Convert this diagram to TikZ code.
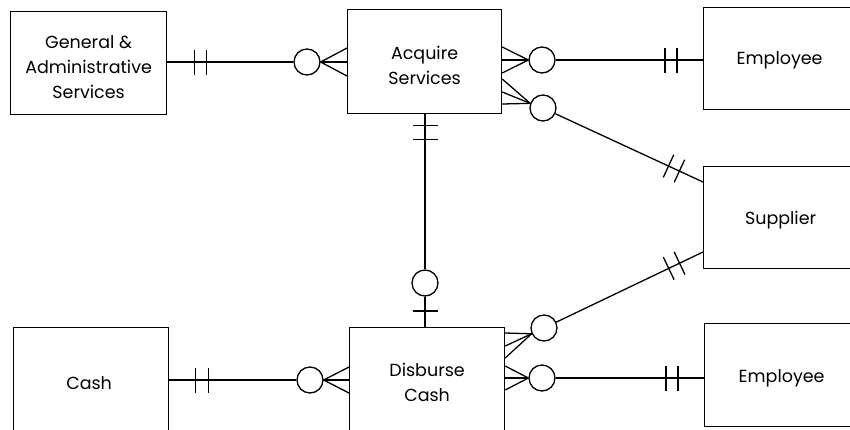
\documentclass[tikz,border=0pt]{standalone}
\usepackage{fontspec}
\setmainfont{Poppins}
\usetikzlibrary{calc}
% perpendicular bar on the line #1--#2, at distance #3 from #1
\newcommand\erbar[3]{\draw ($(#1)!#3!(#2)!12.5pt!90:(#2)$) -- ($(#1)!#3!(#2)!12.5pt!-90:(#2)$);}
\begin{document}
\begin{tikzpicture}[x=1pt,y=-1pt,line width=1.3pt,
  entity/.style={draw, line width=1.2pt, anchor=north west, inner sep=0pt},
  etext/.style={align=center, inner sep=0pt, font=\fontsize{17.5}{25}\selectfont},
  erc/.style={circle, draw, fill=white, minimum size=26pt, inner sep=0pt}]
\useasboundingbox (0,0) rectangle (850,429);
\fill[white] (0,0) rectangle (850,429);
\clip (0,0) rectangle (850,429);

% entities
\node[entity, minimum width=156pt, minimum height=103pt] (ga) at (10,11) {};
\node[entity, minimum width=154pt, minimum height=104pt] (acq) at (347,9) {};
\node[entity, minimum width=154pt, minimum height=102pt] (emp1) at (703,7) {};
\node[entity, minimum width=154pt, minimum height=102pt] (sup) at (703,166) {};
\node[entity, minimum width=154pt, minimum height=103pt] (emp2) at (704,323) {};
\node[entity, minimum width=155pt, minimum height=110pt] (cash) at (13,327) {};
\node[entity, minimum width=155pt, minimum height=110pt] (disb) at (349,327) {};

% entity names
\node[etext] (ga-t) at ($(ga.center)+(0,4)$) {General \&\\Administrative\\Services};
\node[etext] (acq-t) at ($(acq.center)+(0,4)$) {Acquire\\Services};
\node[etext] (emp1-t) at ($(emp1.center)+(-1,2)$) {Employee};
\node[etext] (sup-t) at ($(sup.center)+(0,3)$) {Supplier};
\node[etext] (emp2-t) at ($(emp2.center)+(0,3)$) {Employee};
\node[etext] (cash-t) at ($(cash.center)+(-2,0)$) {Cash};
\node[etext] (disb-t) at ($(disb.center)+(0,0)$) {Disburse\\Cash};

% General & Administrative Services -- Acquire Services
\coordinate (ga1) at (ga.east |- 0,62);
\coordinate (acq1) at (acq.west |- 0,62);
\node[erc] (c1) at (307,62) {};
\draw (ga1) -- (c1);
\erbar{ga1}{c1}{27pt}\erbar{ga1}{c1}{39pt}
\foreach \dy in {-14,0,14} \draw (c1.east) -- ($(acq1)+(0,\dy)$);

% Acquire Services -- Employee
\coordinate (acq2) at (acq.east |- 0,60);
\coordinate (emp1a) at (emp1.west |- 0,60);
\node[erc] (c2) at (542,60) {};
\draw (c2) -- (emp1a);
\erbar{emp1a}{c2}{26pt}\erbar{emp1a}{c2}{38pt}
\foreach \dy in {-13,0,13} \draw (c2.west) -- ($(acq2)+(0,\dy)$);

% Acquire Services -- Supplier
\coordinate (acq3) at (acq.east |- 0,92);
\coordinate (sup1) at (sup.west |- 0,182);
\node[erc] (c3) at (543,108) {};
\draw (c3) -- (sup1);
\erbar{sup1}{c3}{26pt}\erbar{sup1}{c3}{38pt}
\foreach \dy in {-13,0,12} \draw (c3.160) -- ($(acq3)+(0,\dy)$);

% Acquire Services -- Disburse Cash
\coordinate (acq4) at (acq.south -| 425,0);
\coordinate (disb4) at (disb.north -| 425,0);
\node[erc] (c4) at (425,283) {};
\draw (acq4) -- (c4) -- (disb4);
\erbar{acq4}{c4}{11pt}\erbar{acq4}{c4}{25pt}
\erbar{disb4}{c4}{16pt}

% Cash -- Disburse Cash
\coordinate (cash5) at (cash.east |- 0,380);
\coordinate (disb5) at (disb.west |- 0,380);
\node[erc] (c5) at (310,380) {};
\draw (cash5) -- (c5);
\erbar{cash5}{c5}{26pt}\erbar{cash5}{c5}{39pt}
\foreach \dy in {-13,0,13} \draw (c5.east) -- ($(disb5)+(0,\dy)$);

% Disburse Cash -- Supplier
\coordinate (disb6) at (disb.east |- 0,346);
\coordinate (sup2) at (sup.west |- 0,252);
\node[erc] (c6) at (544,328) {};
\draw (c6) -- (sup2);
\erbar{sup2}{c6}{26pt}\erbar{sup2}{c6}{38pt}
\foreach \dy in {-13,0,12} \draw (c6.205) -- ($(disb6)+(0,\dy)$);

% Disburse Cash -- Employee
\coordinate (disb7) at (disb.east |- 0,378);
\coordinate (emp2a) at (emp2.west |- 0,378);
\node[erc] (c7) at (542,378) {};
\draw (c7) -- (emp2a);
\erbar{emp2a}{c7}{26pt}\erbar{emp2a}{c7}{38pt}
\foreach \dy in {-12,0,12} \draw (c7.west) -- ($(disb7)+(0,\dy)$);
\end{tikzpicture}
\end{document}
